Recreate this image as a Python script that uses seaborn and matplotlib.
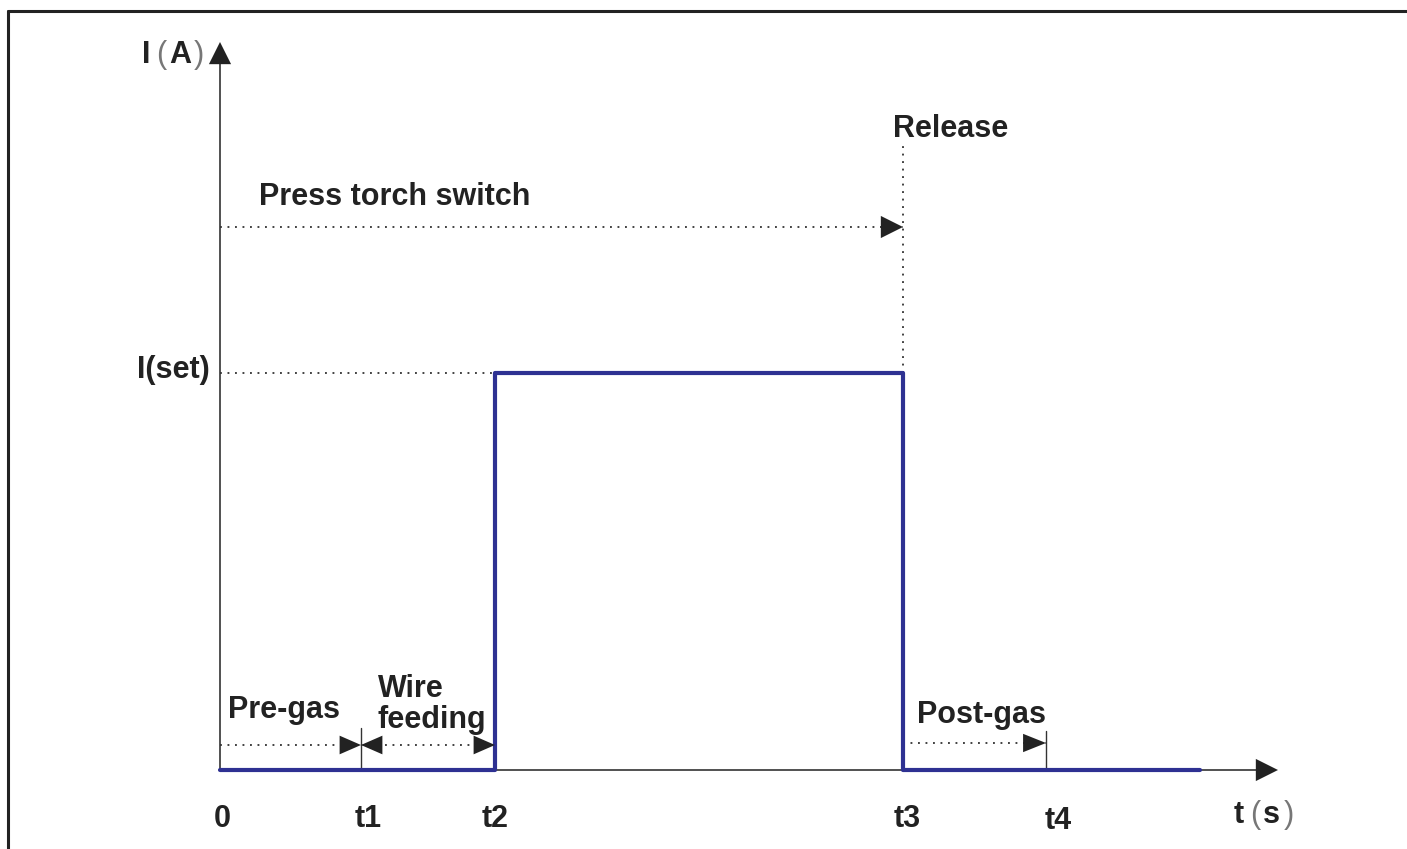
import matplotlib.pyplot as plt
import seaborn as sns
import pandas as pd
from matplotlib.lines import Line2D

# Zeitpunkte der Phasen (Einheit: beliebig, 0 = Beginn)
phase_times = [0, 1.41, 2.75, 6.83, 8.26]
phase_labels = ["0", "t1", "t2", "t3", "t4"]
t_end = 9.8
i_set = 3.97
switch_level = 5.43

# Stromverlauf
wave_t = [0, phase_times[2], phase_times[2], phase_times[3], phase_times[3], t_end]
wave_i = [0, 0, i_set, i_set, 0, 0]
wave = pd.DataFrame({"t": wave_t, "I": wave_i})

sns.set_theme(style="white")
plt.rcParams["font.family"] = ["Liberation Sans", "DejaVu Sans"]

ink = "#222222"
dot_style = dict(color="#3a3a3a", lw=1.35, linestyle=(0, (1, 3.0)), zorder=2)
fs = 22

fig = plt.figure(figsize=(14.07, 8.49), dpi=100)
ax = fig.add_axes([0, 0, 1, 1])


def head(x, y, dx, dy, hl=0.42, hw=0.21, ms=38):
    # gefüllte Pfeilspitze mit Spitze bei (x, y)
    ax.annotate("", xy=(x, y), xytext=(x - dx * 0.35, y - dy * 0.35),
                arrowprops=dict(arrowstyle=f"-|>,head_length={hl},head_width={hw}",
                                color=ink, lw=0, shrinkA=0, shrinkB=0,
                                mutation_scale=ms), zorder=5)


# Stromkurve
sns.lineplot(data=wave, x="t", y="I", sort=False, estimator=None,
             color="#2E3192", lw=3.0, ax=ax, zorder=4)
ax.set_xlim(-2.2, 11.87)
ax.set_ylim(-0.79, 7.70)
ax.axis("off")

# Achsen
x_tip, y_tip = 10.58, 7.28
ax.plot([0, x_tip - 0.05], [0, 0], color="#333333", lw=1.2, zorder=3)
ax.plot([0, 0], [0, y_tip - 0.05], color="#333333", lw=1.2, zorder=3)
head(x_tip, 0, 1, 0)
head(0, y_tip, 0, 1)

# Hilfslinien
ax.plot([0, phase_times[3]], [switch_level, switch_level], **dot_style)
head(phase_times[3], switch_level, 1, 0)
ax.plot([phase_times[3], phase_times[3]], [i_set, 6.25], **dot_style)
ax.plot([0, phase_times[2]], [i_set, i_set], **dot_style)

# Vorgas / Drahtvorschub
y_pre = 0.25
ax.plot([0, phase_times[2]], [y_pre, y_pre], **dot_style)
head(phase_times[1], y_pre, 1, 0, hl=0.55, hw=0.24, ms=28)
head(phase_times[1], y_pre, -1, 0, hl=0.55, hw=0.24, ms=28)
head(phase_times[2], y_pre, 1, 0, hl=0.55, hw=0.24, ms=28)
ax.plot([phase_times[1], phase_times[1]], [0, 0.42], color="#333333", lw=1.0, zorder=3)

# Nachgas
y_post = 0.27
ax.plot([phase_times[3], phase_times[4]], [y_post, y_post], **dot_style)
head(phase_times[4], y_post, 1, 0, hl=0.55, hw=0.22, ms=30)
ax.plot([phase_times[4], phase_times[4]], [0, 0.39], color="#333333", lw=1.0, zorder=3)

# Beschriftungen
txt = dict(fontsize=fs, fontweight="bold", color=ink, va="baseline")
paren = dict(fontsize=fs, fontweight="light", color="#777777", va="baseline", ha="center")
label_shift = [0.02, 0.07, 0.0, 0.04, 0.12]
label_drop = [-0.57, -0.57, -0.57, -0.57, -0.59]
for t, lab, sh, dr in zip(phase_times, phase_labels, label_shift, label_drop):
    ax.text(t + sh, dr, lab, ha="center", **txt)

# Achsentitel mit dünnen Klammern
ax.text(-0.74, 7.07, "I", ha="center", **txt)
ax.text(-0.585, 7.07, "(", **paren)
ax.text(-0.40, 7.07, "A", ha="center", **txt)
ax.text(-0.215, 7.07, ")", **paren)

ax.text(10.19, -0.53, "t", ha="center", **txt)
ax.text(10.35, -0.53, "(", **paren)
ax.text(10.51, -0.53, "s", ha="center", **txt)
ax.text(10.69, -0.53, ")", **paren)

ax.text(-0.10, 3.92, "I(set)", ha="right", **txt)
ax.text(0.39, 5.65, "Press torch switch", ha="left", **txt)
ax.text(6.73, 6.33, "Release", ha="left", **txt)
ax.text(0.08, 0.52, "Pre-gas", ha="left", **txt)
ax.text(1.58, 0.73, "Wire", ha="left", **txt)
ax.text(1.58, 0.42, "feeding", ha="left", **txt)
ax.text(6.97, 0.47, "Post-gas", ha="left", **txt)

# Rahmen oben und links
fig.add_artist(Line2D([8 / 1407, 1], [1 - 11 / 849, 1 - 11 / 849],
                      transform=fig.transFigure, color="#222222", lw=2.2))
fig.add_artist(Line2D([8 / 1407, 8 / 1407], [0, 1 - 11 / 849],
                      transform=fig.transFigure, color="#222222", lw=2.2))

fig.savefig("out.png", dpi=100, facecolor="white")
